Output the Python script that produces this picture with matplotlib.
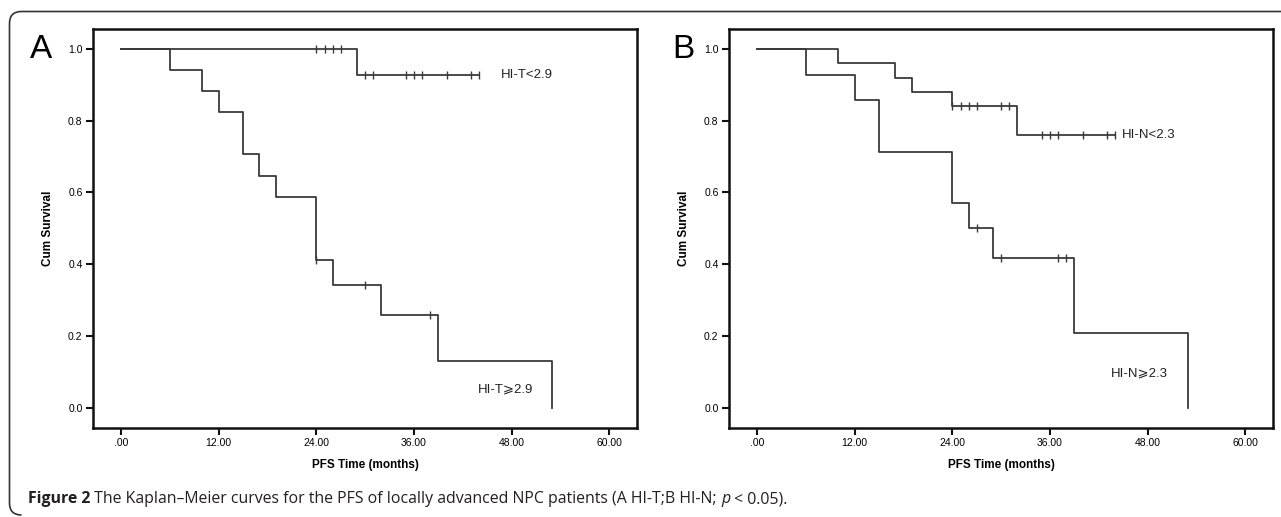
import numpy as np
import matplotlib
matplotlib.use('Agg')
import matplotlib.pyplot as plt
from matplotlib.path import Path
from matplotlib.patches import PathPatch

# Panel A: HI-T groups
a_low_t = [0, 29, 44]
a_low_s = [1.0, 0.929, 0.929]
a_low_cens = [24, 25, 26, 27, 30, 31, 35, 36, 37, 40, 43, 44]

a_high_t = [0, 6, 10, 12, 15, 17, 19, 24, 26, 32, 39, 53]
a_high_s = [1.0, 0.941, 0.882, 0.824, 0.706, 0.647, 0.588, 0.412, 0.343, 0.257, 0.129, 0.0]
a_high_cens = [24, 30, 38]

# Panel B: HI-N groups
b_low_t = [0, 10, 17, 19, 24, 32, 44]
b_low_s = [1.0, 0.96, 0.92, 0.88, 0.84, 0.76, 0.76]
b_low_cens = [24, 25, 26, 27, 30, 31, 35, 36, 37, 40, 43, 44]

b_high_t = [0, 6, 12, 15, 24, 26, 29, 39, 53]
b_high_s = [1.0, 0.929, 0.857, 0.714, 0.571, 0.5, 0.417, 0.208, 0.0]
b_high_cens = [27, 30, 37, 38]

xticks = [0, 12, 24, 36, 48, 60]
xticklabels = ['.00', '12.00', '24.00', '36.00', '48.00', '60.00']
yticks = [0.0, 0.2, 0.4, 0.6, 0.8, 1.0]
yticklabels = ['0.0', '0.2', '0.4', '0.6', '0.8', '1.0']

line_col = '#3a3a3a'
arial = ['Liberation Sans', 'DejaVu Sans']

W, H = 1281, 517
fig = plt.figure(figsize=(W / 100, H / 100), dpi=100)


def surv_at(times, surv, x):
    i = np.searchsorted(times, x, side='right') - 1
    return np.array(surv)[i]


def km(ax, t, s, cens):
    ax.step(t, s, where='post', color=line_col, lw=1.3)
    cy = [surv_at(t, s, c) for c in cens]
    ax.plot(cens, cy, ls='none', marker='|', ms=6, mew=1.0, color=line_col)


def panel(left, groups, labels):
    ax = fig.add_axes([left / W, (H - 427.7) / H, 544 / W, 398.7 / H])
    for t, s, c in groups:
        km(ax, t, s, c)
    ax.set_xlim(-3.45, 63.4)
    ax.set_ylim(-0.056, 1.056)
    ax.set_xticks(xticks)
    ax.set_xticklabels(xticklabels, family=arial, fontsize=7.5)
    ax.set_yticks(yticks)
    ax.set_yticklabels(yticklabels, family=arial, fontsize=7.5)
    ax.tick_params(length=5, width=1.5, pad=2.5, color='#111')
    for sp in ax.spines.values():
        sp.set_linewidth(1.8)
        sp.set_color('#111')
    ax.set_xlabel('PFS Time (months)', family=arial, fontsize=8.5,
                  fontweight='bold', labelpad=8)
    ax.set_ylabel('Cum Survival', family=arial, fontsize=8.5,
                  fontweight='bold', labelpad=10)
    for (x, y, txt) in labels:
        ax.text(x, y, txt, family=arial, fontsize=9.5, va='center',
                color='#222')
    return ax


ax_a = panel(93, [(a_low_t, a_low_s, a_low_cens), (a_high_t, a_high_s, a_high_cens)],
             [(46.7, 0.929, 'HI-T<2.9'), (43.8, 0.05, 'HI-T⩾2.9')])
ax_b = panel(729, [(b_low_t, b_low_s, b_low_cens), (b_high_t, b_high_s, b_high_cens)],
             [(44.8, 0.76, 'HI-N<2.3'), (43.5, 0.096, 'HI-N⩾2.3')])

fig.text(41 / W, 1 - 50 / H, 'A', family=arial, fontsize=24, ha='center', va='center')
fig.text(683.5 / W, 1 - 50 / H, 'B', family=arial, fontsize=24, ha='center', va='center')

# outer frame: top and left edges with rounded corners
r = 12
x0, ytop, ybot = 9.5, H - 11.5, H - 515
verts = [(W + 5, ytop), (x0 + r, ytop), (x0, ytop), (x0, ytop - r),
         (x0, ybot + r), (x0, ybot), (x0 + r, ybot)]
codes = [Path.MOVETO, Path.LINETO, Path.CURVE3, Path.CURVE3,
         Path.LINETO, Path.CURVE3, Path.CURVE3]
verts = [(vx / W, vy / H) for vx, vy in verts]
fig.add_artist(PathPatch(Path(verts, codes), transform=fig.transFigure,
                         fill=False, lw=1.2, edgecolor='#333'))

# caption with mixed styles
cap_font = ['Open Sans', 'DejaVu Sans']
parts = [('Figure 2', 'bold', 'normal'),
         (' The Kaplan\u2013Meier curves for the PFS of locally advanced NPC patients (A HI-T;B HI-N; ', 'normal', 'normal'),
         ('p', 'normal', 'italic'),
         (' < 0.05).', 'normal', 'normal')]
fig.canvas.draw()
renderer = fig.canvas.get_renderer()
xpos = 28 / W
for txt, wt, st in parts:
    t = fig.text(xpos, 1 - 503 / H, txt, family=cap_font, fontsize=11.4,
                 fontweight=wt, fontstyle=st, color='#231f20', va='baseline')
    bb = t.get_window_extent(renderer=renderer)
    xpos = bb.x1 / W

fig.savefig('out.png', dpi=100)
